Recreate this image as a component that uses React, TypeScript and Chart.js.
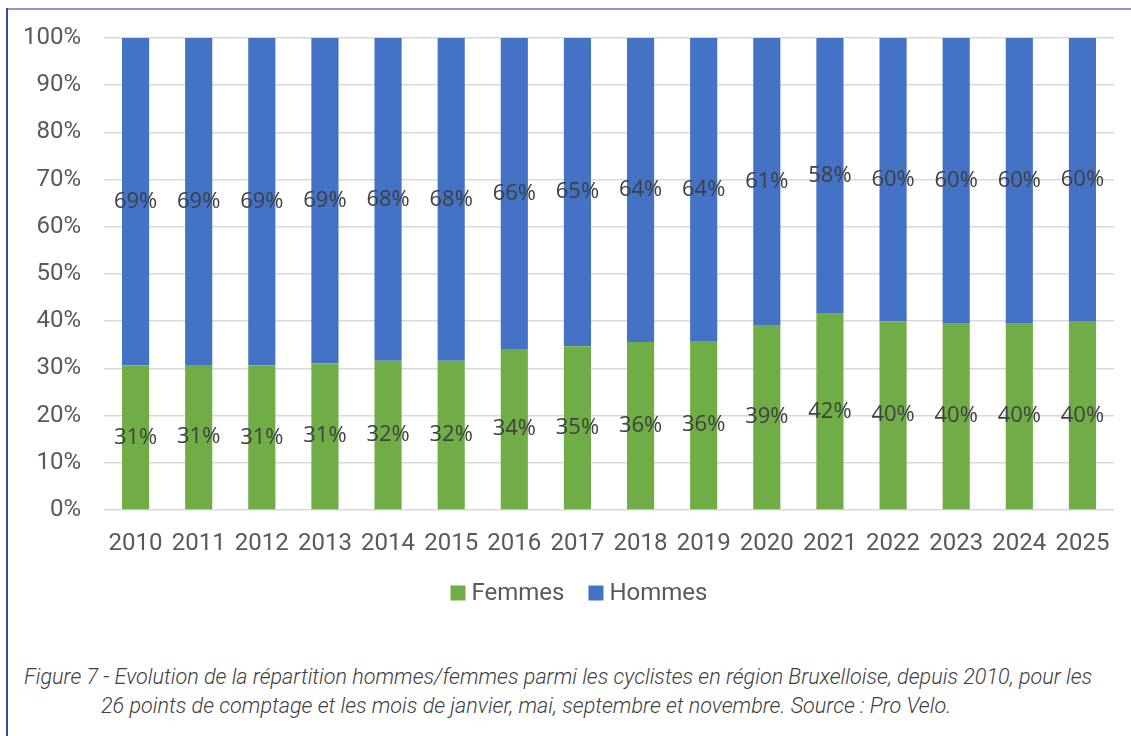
import React, { useEffect, useRef } from "react";
import { Chart, registerables } from "chart.js";

Chart.register(...registerables);

const years = ["2010", "2011", "2012", "2013", "2014", "2015", "2016", "2017", "2018", "2019", "2020", "2021", "2022", "2023", "2024", "2025"];
const femmes = [30.6, 30.7, 30.6, 31.1, 31.6, 31.6, 34.1, 34.7, 35.6, 35.8, 39.2, 41.6, 40.0, 39.6, 39.6, 39.9];
const hommes = [69.4, 69.3, 69.4, 68.9, 68.4, 68.4, 65.9, 65.3, 64.4, 64.2, 60.8, 58.4, 60.0, 60.4, 60.4, 60.1];
const yTicks = [0, 10, 20, 30, 40, 50, 60, 70, 80, 90, 100];
const captionLine1 = "Figure 7 - Evolution de la répartition hommes/femmes parmi les cyclistes en région Bruxelloise, depuis 2010, pour les";
const captionLine2 = "26 points de comptage et les mois de janvier, mai, septembre et novembre. Source : Pro Velo.";

const labelPlugin = {
  id: "segLabels",
  afterDatasetsDraw(chart: any) {
    const ctx = chart.ctx;
    ctx.save();
    ctx.font = '22px "Open Sans", "DejaVu Sans", sans-serif';
    ctx.fillStyle = "#404040";
    ctx.textAlign = "center";
    ctx.textBaseline = "middle";
    chart.data.datasets.forEach((ds: any, di: number) => {
      const meta = chart.getDatasetMeta(di);
      meta.data.forEach((el: any, i: number) => {
        const p = el.getProps(["x", "y", "base"], true);
        const v = ds.data[i];
        ctx.fillText(Math.round(v) + "%", p.x, (p.y + p.base) / 2);
      });
    });
    ctx.restore();
  },
};

const legendPlugin = {
  id: "customLegend",
  afterDraw(chart: any) {
    const ctx = chart.ctx;
    ctx.save();
    ctx.font = '24px Roboto, sans-serif';
    ctx.textBaseline = "middle";
    const box = 15, gapText = 6, gapItem = 24;
    const items = chart.data.datasets.map((d: any) => ({ label: d.label, color: d.backgroundColor, w: ctx.measureText(d.label).width }));
    let total = 0;
    items.forEach((it: any, i: number) => { total += box + gapText + it.w + (i < items.length - 1 ? gapItem : 0); });
    const cx = (chart.chartArea.left + chart.chartArea.right) / 2 - 30;
    const cy = chart.chartArea.bottom + 83;
    let x = cx - total / 2;
    items.forEach((it: any) => {
      ctx.fillStyle = it.color;
      ctx.fillRect(x, cy - box / 2, box, box);
      x += box + gapText;
      ctx.fillStyle = "#595959";
      ctx.fillText(it.label, x, cy + 1);
      x += it.w + gapItem;
    });
    ctx.restore();
  },
};

export default function App() {
  const ref = useRef<HTMLCanvasElement | null>(null);
  useEffect(() => {
    const c = ref.current;
    if (!c) return;
    const chart = new Chart(c, {
      type: "bar",
      data: {
        labels: years,
        datasets: [
          { label: "Femmes", data: femmes, backgroundColor: "#70AD47", categoryPercentage: 1, barPercentage: 0.43 },
          { label: "Hommes", data: hommes, backgroundColor: "#4472C4", categoryPercentage: 1, barPercentage: 0.43 },
        ],
      },
      options: {
        responsive: false,
        animation: false,
        devicePixelRatio: 1,
        layout: { padding: { top: 38, right: 17, left: 0, bottom: 54 } },
        plugins: {
          tooltip: { enabled: false },
          legend: { display: false },
        },
        scales: {
          x: {
            stacked: true,
            grid: { display: false },
            border: { display: false },
            ticks: { color: "#595959", font: { family: "Roboto", size: 24 }, padding: 12, maxRotation: 0 },
            afterFit: (s: any) => { s.height = 56; },
          },
          y: {
            stacked: true,
            min: 0,
            max: 100,
            afterBuildTicks: (s: any) => { s.ticks = yTicks.map((v) => ({ value: v })); },
            grid: { color: "#D9D9D9", lineWidth: 1.5, drawTicks: false },
            border: { display: false },
            ticks: { color: "#595959", font: { family: "Roboto", size: 24 }, padding: 23, callback: (v: any) => v + "%" },
            afterFit: (s: any) => { s.width = 104; },
          },
        },
      },
      plugins: [labelPlugin, legendPlugin],
    });
    return () => chart.destroy();
  }, []);

  return (
    <div style={{ position: "absolute", left: 0, top: 0, width: 1131, height: 736, background: "#fff", overflow: "hidden" }}>
      <div style={{ position: "absolute", left: 6, top: 8, right: 0, height: 2, background: "#8F95C8" }} />
      <div style={{ position: "absolute", left: 6, top: 8, bottom: 0, width: 1.5, background: "#3A4A9E" }} />
      <canvas ref={ref} width={1131} height={620} style={{ position: "absolute", left: 0, top: 0 }} />
      <div style={{ position: "absolute", left: 0, top: 662, width: 1131, fontFamily: "Roboto", fontStyle: "italic", fontWeight: 300, fontSize: 21.6, lineHeight: "29px", color: "#404040", whiteSpace: "nowrap" }}>
        <div style={{ paddingLeft: 24 }}>{captionLine1}</div>
        <div style={{ paddingLeft: 101 }}>{captionLine2}</div>
      </div>
    </div>
  );
}
